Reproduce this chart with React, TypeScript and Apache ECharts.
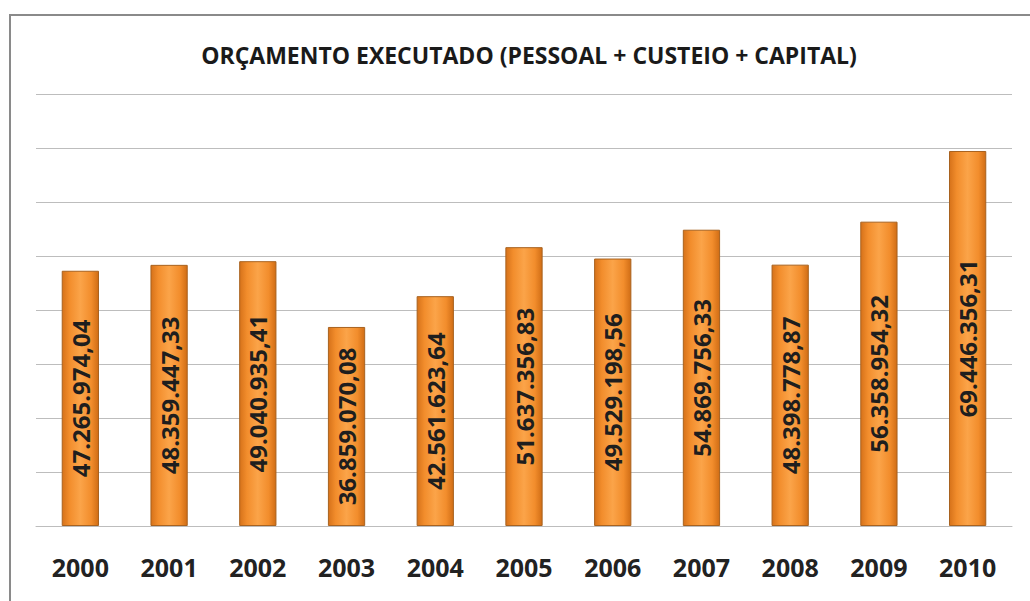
import React, { useEffect, useRef } from "react";
import * as echarts from "echarts";

const years = ["2000", "2001", "2002", "2003", "2004", "2005", "2006", "2007", "2008", "2009", "2010"];
const values = [
  47265974.04, 48359447.33, 49040935.41, 36859070.08, 42561623.64, 51637356.83,
  49529198.56, 54869756.33, 48398778.87, 56358954.32, 69446356.31,
];
const valueLabels = [
  "47.265.974,04", "48.359.447,33", "49.040.935,41", "36.859.070,08", "42.561.623,64",
  "51.637.356,83", "49.529.198,56", "54.869.756,33", "48.398.778,87", "56.358.954,32",
  "69.446.356,31",
];
const title = "ORÇAMENTO EXECUTADO (PESSOAL + CUSTEIO + CAPITAL)";

export default function App() {
  const ref = useRef<HTMLDivElement>(null);
  useEffect(() => {
    if (!ref.current) return;
    const chart = echarts.init(ref.current, null, { renderer: "svg" });
    const font = "'Open Sans', 'DejaVu Sans', sans-serif";
    chart.setOption({
      animation: false,
      backgroundColor: "#ffffff",
      title: {
        text: title,
        left: 524,
        textAlign: "center",
        top: 38,
        textStyle: { fontFamily: font, fontWeight: "bold", fontSize: 23, color: "#1a1a1a" },
      },
      graphic: [
        {
          type: "rect",
          shape: { x: 10, y: 15, width: 1100, height: 700 },
          style: { fill: "none", stroke: "#8a8a8a", lineWidth: 2 },
          silent: true,
        },
      ],
      grid: { left: 36, right: 18, top: 94, bottom: 75 },
      xAxis: {
        type: "category",
        data: years,
        axisLine: { show: true, lineStyle: { color: "#bdbdbd", width: 1 } },
        axisTick: { show: false },
        axisLabel: {
          fontFamily: font,
          fontWeight: "bold",
          fontSize: 25,
          color: "#222222",
          margin: 28,
        },
      },
      yAxis: {
        type: "value",
        min: 0,
        max: 80000000,
        interval: 10000000,
        axisLabel: { show: false },
        axisLine: { show: false },
        axisTick: { show: false },
        splitLine: { show: true, lineStyle: { color: "#bdbdbd", width: 1 } },
      },
      series: [
        {
          type: "bar",
          data: values,
          barWidth: "42%",
          itemStyle: {
            color: new echarts.graphic.LinearGradient(0, 0, 1, 0, [
              { offset: 0, color: "#d6721a" },
              { offset: 0.2, color: "#f28d2c" },
              { offset: 0.5, color: "#fba449" },
              { offset: 0.8, color: "#f28d2c" },
              { offset: 1, color: "#d06d15" },
            ]),
            borderColor: "#a8621f",
            borderWidth: 1,
          },
          label: {
            show: true,
            position: "inside",
            rotate: 90,
            formatter: (p: any) => valueLabels[p.dataIndex],
            fontFamily: font,
            fontWeight: "bold",
            fontSize: 24,
            color: "#1e1e1e",
          },
        },
      ],
    });
    return () => chart.dispose();
  }, []);
  return (
    <div
      ref={ref}
      style={{ position: "absolute", left: 0, top: 0, width: 1030, height: 601 }}
    />
  );
}
